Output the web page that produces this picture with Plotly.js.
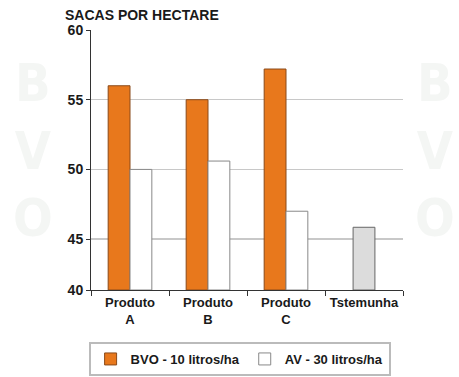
<!DOCTYPE html>
<html><head><meta charset="utf-8">
<script src="https://cdn.plot.ly/plotly-3.0.1.min.js"></script>
<style>body{margin:0;background:#fff}#c{width:459px;height:377px}</style>
</head><body><div id="c"></div><script>
const categories = ["Produto<br>A", "Produto<br>B", "Produto<br>C", "Tstemunha"];
const bvoValues = [56.0, 55.0, 57.2, null];
const avValues = [50.0, 50.6, 47.0, null];
const testemunhaValues = [null, null, null, 45.85];
const seriesNames = ["BVO - 10 litros/ha", "AV - 30 litros/ha"];
const yTickVals = [41.35, 45, 50, 55, 60];
const yTickText = ["40", "45", "50", "55", "60"];
const axisBase = 41.35;
const watermark = "B<br>V<br>O";

const traces = [
  {type:'bar', x:categories, y:bvoValues, name:seriesNames[0], base:axisBase,
   width:0.28, offset:-0.28, marker:{color:'#E8781C', line:{color:'#8a4a1a', width:1}}},
  {type:'bar', x:categories, y:avValues, name:seriesNames[1], base:axisBase,
   width:0.28, offset:0, marker:{color:'#ffffff', line:{color:'#888888', width:1}}},
  {type:'bar', x:categories, y:testemunhaValues, name:'Testemunha', base:axisBase, showlegend:false,
   width:0.28, offset:-0.14, marker:{color:'#dcdcdc', line:{color:'#666666', width:1}}}
];
traces.forEach(t => { t.y = t.y.map(v => v === null ? null : v - axisBase); });

const PT = 30, PH = 260, PL = 91, PW = 312;
const wm = [33, 435].map(px => ({xref:'paper', yref:'paper', x:(px-PL)/PW, y:1-(150-PT)/PH,
  yanchor:'middle', xanchor:'center', text:'<b>'+watermark+'</b>', showarrow:false,
  font:{family:'DejaVu Sans Condensed', size:52, color:'#f4f6f4'}}));

const layout = {
  width:459, height:377, margin:{l:PL, r:56, t:PT, b:87},
  paper_bgcolor:'#fff', plot_bgcolor:'rgba(0,0,0,0)',
  font:{family:'Liberation Sans, Arial, sans-serif', color:'#1a1a1a'},
  title:{text:'<b>SACAS POR HECTARE</b>', x:65/459, xanchor:'left', y:1-15/377, yanchor:'middle',
    font:{size:14, color:'#1a1a1a'}},
  barmode:'overlay',
  xaxis:{type:'category', showline:true, linecolor:'#333', linewidth:1, ticks:'outside', tickson:'boundaries',
    ticklen:5, tickcolor:'#333', showgrid:false, automargin:false, tickangle:0,
    tickfont:{size:13, color:'#1a1a1a', weight:'bold'}, fixedrange:true},
  yaxis:{range:[axisBase, 60], tickvals:yTickVals, ticktext:yTickText, showline:true, linecolor:'#333', linewidth:1,
    ticks:'outside', ticklen:4, tickcolor:'#333', showgrid:true, gridcolor:'#c8c8c8', gridwidth:1.5,
    zeroline:false, automargin:false, tickfont:{size:14, color:'#1a1a1a', weight:'bold'}},
  showlegend:true,
  legend:{orientation:'h', x:0.522, xref:'container', xanchor:'center', y:1-342/377, yref:'container', yanchor:'top',
    bordercolor:'#bbbbbb', borderwidth:2, font:{size:13, color:'#1a1a1a', weight:'bold'}, traceorder:'normal'},
  annotations:wm
};
Plotly.newPlot('c', traces, layout, {staticPlot:true});
</script></body></html>
